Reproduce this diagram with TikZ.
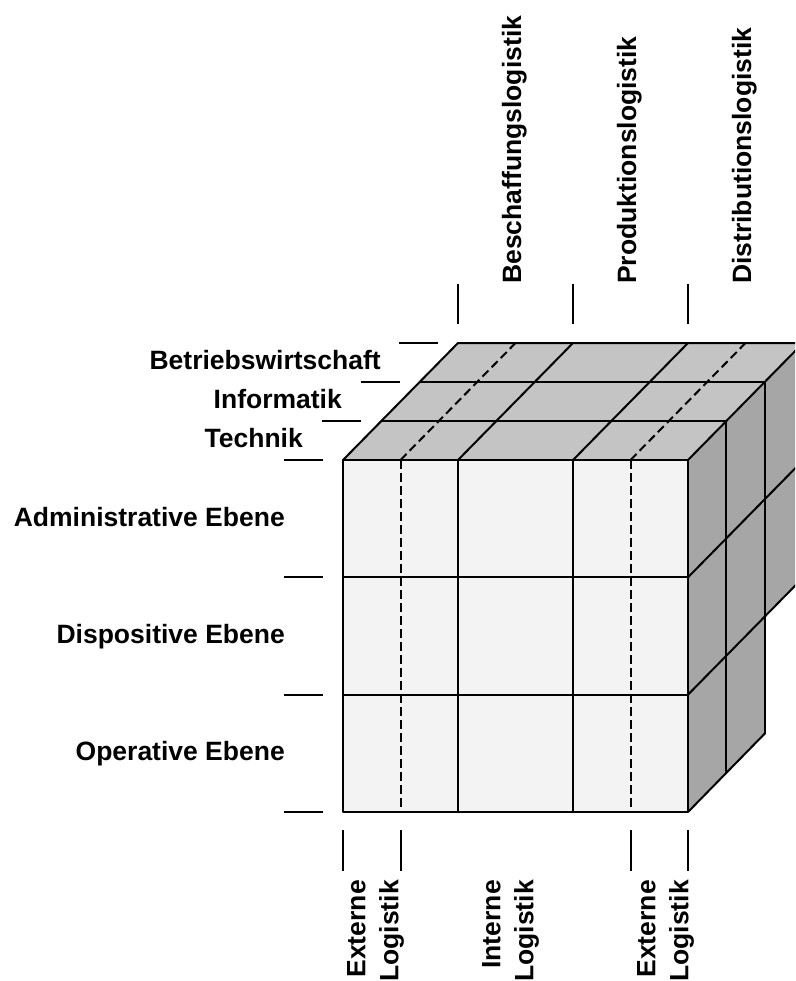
\documentclass[tikz,border=0pt]{standalone}
\usepackage{fontspec}
\setmainfont{Liberation Sans}
\definecolor{frontgray}{HTML}{F3F3F3}
\definecolor{topgray}{HTML}{C4C4C4}
\definecolor{sidegray}{HTML}{A6A6A6}
\tikzset{
  lab/.style={font=\fontsize{26.5}{33}\selectfont\bfseries, inner sep=0pt},
  cubeline/.style={line width=2pt, line join=round, line cap=round},
  hidden/.style={line width=2pt, dash pattern=on 8.5pt off 4.5pt},
  tickline/.style={line width=2pt},
}
\begin{document}
\begin{tikzpicture}[x=1pt,y=-1pt]
\useasboundingbox (0,0) rectangle (795,981);
\clip (0,0) rectangle (795,981);

% ---- faces ----
\fill[frontgray] (343,460) rectangle (688,812);
\fill[topgray] (343,460) -- (458,343) -- (803,343) -- (688,460) -- cycle;
\fill[sidegray] (688,460) -- (803,343) -- (803,577.67) -- (764.67,616.67)
  -- (764.67,733.67) -- (688,812) -- cycle;

% ---- front face grid ----
\draw[cubeline] (343,577.33) -- (688,577.33);
\draw[cubeline] (343,694.67) -- (688,694.67);
\draw[cubeline] (458,460) -- (458,812);
\draw[cubeline] (573,460) -- (573,812);
\draw[hidden] (400.5,460) -- (400.5,812);
\draw[hidden] (630.5,460) -- (630.5,812);

% ---- top face grid ----
\draw[cubeline] (381.33,421) -- (726.33,421);
\draw[cubeline] (419.67,382) -- (764.67,382);
\draw[cubeline] (458,460) -- (573,343);
\draw[cubeline] (573,460) -- (688,343);
\draw[hidden] (400.5,460) -- (515.5,343);
\draw[hidden] (630.5,460) -- (745.5,343);

% ---- side face grid ----
\draw[cubeline] (726.33,421) -- (726.33,773);
\draw[cubeline] (764.67,382) -- (764.67,733.67);
\draw[cubeline] (688,577.33) -- (803,460.33);
\draw[cubeline] (688,694.67) -- (764.67,616.67);

% ---- outlines ----
\draw[cubeline] (343,460) rectangle (688,812);
\draw[cubeline] (343,460) -- (458,343) -- (803,343);
\draw[cubeline] (688,460) -- (803,343);
\draw[cubeline] (688,812) -- (764.67,733.67);
\draw[cubeline] (764.67,616.67) -- (803,577.67);

% ---- level labels and ticks ----
\foreach \yy in {460,577.33,694.67,812}
  \draw[tickline] (284,\yy) -- (323,\yy);
\node[lab, anchor=base east] (adm) at (285,526) {Administrative Ebene};
\node[lab, anchor=base east] (dis) at (285,643.3) {Dispositive Ebene};
\node[lab, anchor=base east] (ope) at (285,760.7) {Operative Ebene};

% ---- discipline labels and ticks ----
\draw[tickline] (322.33,421) -- (361.33,421);
\draw[tickline] (360.67,382) -- (399.67,382);
\draw[tickline] (399,343) -- (438,343);
\node[lab, anchor=base east] (tec) at (303,447) {Technik};
\node[lab, anchor=base east] (inf) at (342,408) {Informatik};
\node[lab, anchor=base east] (bwl) at (381,369) {Betriebswirtschaft};

% ---- phase labels and ticks ----
\foreach \xx in {458,573,688}
  \draw[tickline] (\xx,283.5) -- (\xx,323.5);
\node[lab, rotate=90, anchor=base west] (bes) at (521,284) {Beschaffungslogistik};
\node[lab, rotate=90, anchor=base west] (pro) at (636,284) {Produktionslogistik};
\node[lab, rotate=90, anchor=base west] (dst) at (751,284) {Distributionslogistik};

% ---- internal / external labels and ticks ----
\foreach \xx in {343,400.5,630.5,688}
  \draw[tickline] (\xx,830) -- (\xx,871);
\node[lab, rotate=90, anchor=north east, align=right] (ext1) at (347,880) {Externe\\Logistik};
\node[lab, rotate=90, anchor=north east, align=right] (int) at (482,880) {Interne\\Logistik};
\node[lab, rotate=90, anchor=north east, align=right] (ext2) at (637,880) {Externe\\Logistik};
\end{tikzpicture}
\end{document}
